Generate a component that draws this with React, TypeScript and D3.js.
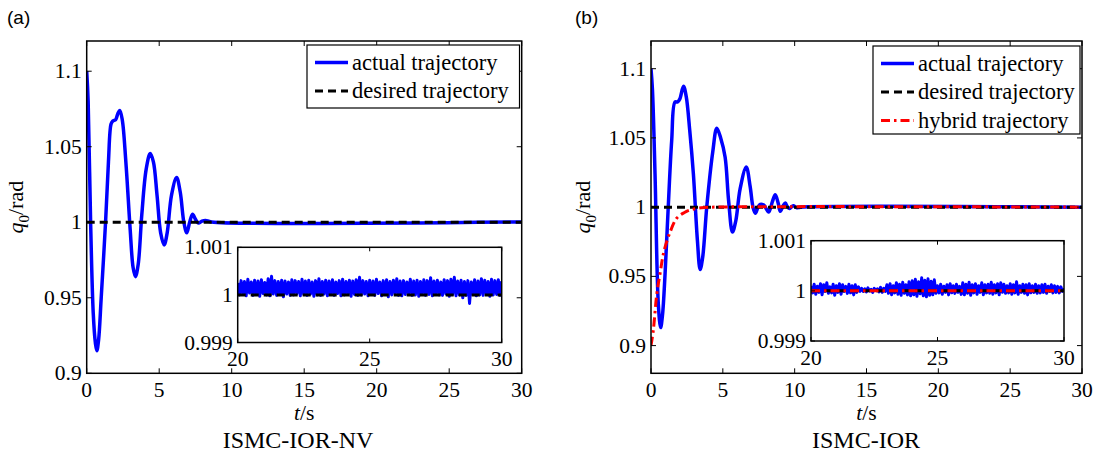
import React from 'react';
import * as d3 from 'd3';

// ---------- data ----------
const xTicks = [0, 5, 10, 15, 20, 25, 30];
const yTicksA = [0.9, 0.95, 1, 1.05, 1.1];
const yTicksB = [0.9, 0.95, 1, 1.05, 1.1];
const insetXTicks = [20, 25, 30];
const insetYTicks = [0.999, 1, 1.001];
const tickLabels: Record<string, string> = { '0.9': '0.9', '0.95': '0.95', '1': '1', '1.05': '1.05', '1.1': '1.1', '0.999': '0.999', '1.001': '1.001' };

// panel (a) actual trajectory [t, q0]
const actualA: [number, number][] = [
  [0, 1.1], [0.1, 1.08], [0.27, 1.0], [0.45, 0.94], [0.6, 0.92], [0.7, 0.915], [0.82, 0.922],
  [1.0, 0.95], [1.3, 1.0], [1.5, 1.04], [1.68, 1.065], [1.8, 1.067], [2.0, 1.068], [2.15, 1.072],
  [2.28, 1.074], [2.45, 1.068], [2.7, 1.04], [3.0, 0.995], [3.2, 0.97], [3.36, 0.964], [3.55, 0.972],
  [3.8, 1.005], [4.1, 1.035], [4.38, 1.0455], [4.6, 1.04], [4.85, 1.018], [5.1, 0.993], [5.34, 0.985],
  [5.55, 0.993], [5.85, 1.018], [6.2, 1.0296], [6.45, 1.02], [6.7, 1.0], [6.9, 0.993], [7.1, 1.0],
  [7.3, 1.0053], [7.5, 1.002], [7.7, 0.9995], [7.95, 1.0008], [8.2, 1.0012], [8.6, 1.0002], [30, 1.0002],
];

// panel (b) actual trajectory [t, q0]
const actualB: [number, number][] = [
  [0, 1.1], [0.1, 1.085], [0.28, 1.024], [0.51, 0.93], [0.67, 0.913], [0.8, 0.922], [0.98, 0.952],
  [1.2, 1.0], [1.44, 1.048], [1.67, 1.076], [1.85, 1.076], [2.0, 1.078], [2.26, 1.0873], [2.45, 1.08],
  [2.7, 1.055], [2.95, 1.024], [3.23, 0.976], [3.42, 0.955], [3.6, 0.964], [3.88, 1.0], [4.3, 1.04],
  [4.58, 1.057], [4.85, 1.05], [5.16, 1.036], [5.4, 1.005], [5.67, 0.982], [5.9, 0.99], [6.2, 1.013],
  [6.63, 1.029], [6.9, 1.015], [7.1, 1.0], [7.26, 0.9956], [7.45, 1.0], [7.6, 1.002], [7.85, 1.0015],
  [8.19, 0.9965], [8.45, 1.004], [8.65, 1.009], [8.85, 1.003], [9.0, 0.997], [9.2, 1.001], [9.35, 1.003],
  [9.5, 1.0], [9.65, 0.999], [9.8, 1.0005], [9.93, 1.001], [10.15, 0.9995], [10.4, 1.0], [30, 1.0],
];

// panel (b) hybrid trajectory [t, q0]
const hybridB: [number, number][] = [
  [0, 0.9], [0.16, 0.911], [0.4, 0.937], [0.63, 0.952], [0.9, 0.968], [1.33, 0.982], [1.79, 0.992],
  [2.3, 0.996], [2.72, 0.998], [3.5, 0.9995], [4.2, 1.0], [30, 1.0],
];

const desired: [number, number][] = [[0, 1], [30, 1]];
const desiredInset: [number, number][] = [[20, 1], [30, 1]];

// inset deviations from 1, in units of 1e-5 rad, sampled uniformly over t = 20..30
const noiseA = [
  25, 0, 30, 2, 28, -2, 33, 4, 27, -1, 31, 1, 29, -3, 32, 3, 26, 0, 34, -2, 39, 2, 30, -1, 28, 1, 31, -4, 29, 2,
  27, -1, 32, 0, 30, 3, 28, -2, 33, 1, 29, -1, 31, 2, 27, -3, 30, 0, 34, -1, 28, 2, 31, -2, 29, 1, 32, -1, 27, 3,
  30, -2, 33, 0, 28, 2, 31, -3, 29, 1, 32, -1, 37, 0, 30, 2, 28, -2, 31, 1, 29, -1, 33, 3, 27, -2, 30, 1, 32, -4,
  28, 0, 31, 2, 34, -1, 29, -2, 30, 1, 27, 3, 33, -1, 29, 0, 31, -3, 28, 2, 32, -1, 30, 1, 36, -2, 29, 2, 31, 0,
  27, -1, 32, 2, 30, -3, 33, 1, 37, -2, 29, 0, 31, -6, 28, -1, 30, -18, 27, 1, 32, -2, 29, 0, 34, -1, 31, 2, 28, -3,
  33, 0, 30, 1, 32, -1, 29,
];
const noiseB = [
  10, -4, 13, -7, 9, -3, 14, -8, 12, -1, 16, -5, 8, -4, 13, -9, 10, -3, 14, -7, 12, -1, 9, -5, 13, -4, 10, -8, 12, -3, 8, -1,
  5, -1, 4, -2, 6, 0, 3, -3, 5, 1, 4, -2, 7, -3, 5, -1,
  12, -5, 14, -8, 10, -4, 16, -7, 13, -9, 17, -5, 12, -8, 18, -10,
  20, -8, 23, -11, 18, -6, 26, -10, 21, -12, 24, -9, 19, -8, 22, -5,
  10, -4, 13, -7, 9, -3, 12, -8, 14, -4, 10, -5, 13, -3, 9, -7,
  16, -8, 13, -5, 17, -9, 12, -4, 14, -7, 10, -3, 16, -8, 12, -4,
  13, -5, 17, -7, 12, -4, 14, -8, 16, -3, 13, -5, 10, -4, 14, -7,
  12, -4, 18, -7, 10, -3, 13, -5, 12, -8, 14, -4, 10, -3, 13, -5,
  10, -4, 12, -3, 13, -5, 9, -1, 12, -4, 10, -3, 9, -4, 8, -1, 5,
];

const legendA = ['actual trajectory', 'desired trajectory'];
const legendB = ['actual trajectory', 'desired trajectory', 'hybrid trajectory'];

// ---------- styles ----------
const SERIF = "'Liberation Serif', 'Times New Roman', serif";
const SANS = "'Liberation Sans', Arial, sans-serif";
const BLUE = '#0000ff';
const RED = '#ff0000';
const STYLE: Record<string, { stroke: string; width: number; dash?: string }> = {
  actual: { stroke: BLUE, width: 3.5 },
  desired: { stroke: '#000', width: 3, dash: '8,5' },
  hybrid: { stroke: RED, width: 3, dash: '9,4,2.5,4' },
};

const toInset = (noise: number[]): [number, number][] =>
  noise.map((v, i) => [20 + (i * 10) / (noise.length - 1), 1 + v * 1e-5]);

type Rect = { x0: number; x1: number; y0: number; y1: number };

interface PanelProps {
  id: string;
  letter: string;
  letterX: number;
  title: string;
  titleX: number;
  plot: Rect;
  yDomain: [number, number];
  yTicks: number[];
  yLabelX: number;
  inset: Rect;
  legend: Rect;
  legendItems: string[];
  mainSeries: { key: string; data: [number, number][] }[];
  insetSeries: { key: string; data: [number, number][] }[];
}

const Panel: React.FC<PanelProps> = (p) => {
  const x = d3.scaleLinear().domain([0, 30]).range([p.plot.x0, p.plot.x1]);
  const y = d3.scaleLinear().domain(p.yDomain).range([p.plot.y1, p.plot.y0]);
  const ix = d3.scaleLinear().domain([20, 30]).range([p.inset.x0, p.inset.x1]);
  const iy = d3.scaleLinear().domain([0.999, 1.001]).range([p.inset.y1, p.inset.y0]);
  const mainLine = d3.line<[number, number]>().x((d) => x(d[0])).y((d) => y(d[1])).curve(d3.curveCatmullRom.alpha(0.5));
  const insetLine = d3.line<[number, number]>().x((d) => ix(d[0])).y((d) => iy(d[1]));
  const T = 5;
  const cx = (p.plot.x0 + p.plot.x1) / 2;
  const cy = (p.plot.y0 + p.plot.y1) / 2;
  const rowH = 28.5;
  const keys = ['actual', 'desired', 'hybrid'];
  return (
    <g>
      <defs>
        <clipPath id={`clip-main-${p.id}`}>
          <rect x={p.plot.x0} y={p.plot.y0} width={p.plot.x1 - p.plot.x0} height={p.plot.y1 - p.plot.y0} />
        </clipPath>
        <clipPath id={`clip-inset-${p.id}`}>
          <rect x={p.inset.x0} y={p.inset.y0} width={p.inset.x1 - p.inset.x0} height={p.inset.y1 - p.inset.y0} />
        </clipPath>
      </defs>
      <text x={p.letterX} y={24} fontFamily={SANS} fontSize={19}>{p.letter}</text>
      {/* main series */}
      <g clipPath={`url(#clip-main-${p.id})`} fill="none" strokeLinejoin="round">
        {p.mainSeries.map((s) => (
          <path key={s.key} d={mainLine(s.data) || ''} stroke={STYLE[s.key].stroke} strokeWidth={STYLE[s.key].width}
            strokeDasharray={STYLE[s.key].dash} />
        ))}
      </g>
      {/* main frame & ticks */}
      <rect x={p.plot.x0} y={p.plot.y0} width={p.plot.x1 - p.plot.x0} height={p.plot.y1 - p.plot.y0}
        fill="none" stroke="#000" strokeWidth={1.5} />
      {xTicks.map((t) => (
        <g key={`xt${t}`}>
          <line x1={x(t)} x2={x(t)} y1={p.plot.y1} y2={p.plot.y1 - T} stroke="#000" strokeWidth={1} />
          <line x1={x(t)} x2={x(t)} y1={p.plot.y0} y2={p.plot.y0 + T} stroke="#000" strokeWidth={1} />
          <text x={x(t)} y={p.plot.y1 + 23.7} textAnchor="middle" fontFamily={SERIF} fontSize={21.5}>{t}</text>
        </g>
      ))}
      {p.yTicks.map((v) => (
        <g key={`yt${v}`}>
          <line x1={p.plot.x0} x2={p.plot.x0 + T} y1={y(v)} y2={y(v)} stroke="#000" strokeWidth={1} />
          <line x1={p.plot.x1} x2={p.plot.x1 - T} y1={y(v)} y2={y(v)} stroke="#000" strokeWidth={1} />
          <text x={p.plot.x0 - 5} y={y(v) + 7} textAnchor="end" fontFamily={SERIF} fontSize={21.5}>{tickLabels[String(v)]}</text>
        </g>
      ))}
      {/* axis labels */}
      <text transform={`translate(${p.yLabelX},${cy}) rotate(-90)`} textAnchor="middle" fontFamily={SERIF} fontSize={22}>
        <tspan fontStyle="italic">q</tspan>
        <tspan fontSize={15} dy={6}>0</tspan>
        <tspan dy={-6}>/rad</tspan>
      </text>
      <text x={cx} y={p.plot.y1 + 47} textAnchor="middle" fontFamily={SERIF} fontSize={21.5}>
        <tspan fontStyle="italic">t</tspan>/s
      </text>
      <text x={p.titleX} y={p.plot.y1 + 75} textAnchor="middle" fontFamily={SERIF} fontSize={24}>{p.title}</text>
      {/* inset */}
      <rect x={p.inset.x0} y={p.inset.y0} width={p.inset.x1 - p.inset.x0} height={p.inset.y1 - p.inset.y0} fill="#fff" />
      <g clipPath={`url(#clip-inset-${p.id})`} fill="none" strokeLinejoin="round">
        {p.insetSeries.map((s) => (
          <path key={s.key} d={insetLine(s.data) || ''} stroke={STYLE[s.key].stroke}
            strokeWidth={s.key === 'actual' ? 3 : STYLE[s.key].width} strokeDasharray={STYLE[s.key].dash} />
        ))}
      </g>
      <rect x={p.inset.x0} y={p.inset.y0} width={p.inset.x1 - p.inset.x0} height={p.inset.y1 - p.inset.y0}
        fill="none" stroke="#000" strokeWidth={1.5} />
      {insetXTicks.map((t) => (
        <g key={`ixt${t}`}>
          <line x1={ix(t)} x2={ix(t)} y1={p.inset.y1} y2={p.inset.y1 - 4} stroke="#000" strokeWidth={1} />
          <line x1={ix(t)} x2={ix(t)} y1={p.inset.y0} y2={p.inset.y0 + 4} stroke="#000" strokeWidth={1} />
          <text x={ix(t)} y={p.inset.y1 + 23.5} textAnchor="middle" fontFamily={SERIF} fontSize={21.5}>{t}</text>
        </g>
      ))}
      {insetYTicks.map((v) => (
        <g key={`iyt${v}`}>
          <line x1={p.inset.x0} x2={p.inset.x0 + 4} y1={iy(v)} y2={iy(v)} stroke="#000" strokeWidth={1} />
          <line x1={p.inset.x1} x2={p.inset.x1 - 4} y1={iy(v)} y2={iy(v)} stroke="#000" strokeWidth={1} />
          <text x={p.inset.x0 - 5} y={iy(v) + 7} textAnchor="end" fontFamily={SERIF} fontSize={21.5}>{tickLabels[String(v)]}</text>
        </g>
      ))}
      {/* legend */}
      <rect x={p.legend.x0} y={p.legend.y0} width={p.legend.x1 - p.legend.x0} height={p.legend.y1 - p.legend.y0}
        fill="#fff" stroke="#000" strokeWidth={1.2} />
      {p.legendItems.map((label, i) => {
        const ry = p.legend.y0 + 17.5 + i * rowH;
        const st = STYLE[keys[i]];
        return (
          <g key={label}>
            <line x1={p.legend.x0 + 8} x2={p.legend.x0 + 41} y1={ry} y2={ry} stroke={st.stroke} strokeWidth={st.width}
              strokeDasharray={st.dash} />
            <text x={p.legend.x0 + 45} y={ry + 7} fontFamily={SERIF} fontSize={22.5}>{label}</text>
          </g>
        );
      })}
    </g>
  );
};

export default function App() {
  return (
    <svg width={1107} height={455} style={{ position: 'absolute', left: 0, top: 0, background: '#fff' }}>
      <rect x={0} y={0} width={1107} height={455} fill="#fff" />
      <Panel
        id="a" letter="(a)" letterX={7} title="ISMC-IOR-NV" titleX={298}
        plot={{ x0: 86.7, x1: 521.7, y0: 41, y1: 373.3 }}
        yDomain={[0.9, 1.12]} yTicks={yTicksA} yLabelX={23}
        inset={{ x0: 237.7, x1: 501.7, y0: 247.3, y1: 342.5 }}
        legend={{ x0: 307, x1: 519.5, y0: 45, y1: 108 }}
        legendItems={legendA}
        mainSeries={[{ key: 'actual', data: actualA }, { key: 'desired', data: desired }]}
        insetSeries={[{ key: 'actual', data: toInset(noiseA) }, { key: 'desired', data: desiredInset }]}
      />
      <Panel
        id="b" letter="(b)" letterX={575} title="ISMC-IOR" titleX={866}
        plot={{ x0: 651, x1: 1082, y0: 41, y1: 373.3 }}
        yDomain={[0.88, 1.12]} yTicks={yTicksB} yLabelX={590}
        inset={{ x0: 811, x1: 1064, y0: 240.7, y1: 341 }}
        legend={{ x0: 873, x1: 1080, y0: 46, y1: 134 }}
        legendItems={legendB}
        mainSeries={[{ key: 'actual', data: actualB }, { key: 'desired', data: desired }, { key: 'hybrid', data: hybridB }]}
        insetSeries={[{ key: 'actual', data: toInset(noiseB) }, { key: 'desired', data: desiredInset }, { key: 'hybrid', data: desiredInset }]}
      />
    </svg>
  );
}
